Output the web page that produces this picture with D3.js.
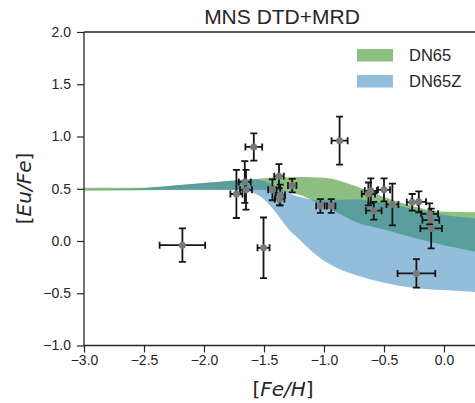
<!DOCTYPE html>
<html>
<head>
<meta charset="utf-8">
<script src="https://cdn.jsdelivr.net/npm/d3@7"></script>
<style>
  body { margin: 0; background: #fff; }
  svg { display: block; }
  .tick text { font-family: "Liberation Sans", Arial, sans-serif; font-size: 14px; fill: #262626; }
  .tick line { stroke: #262626; stroke-width: 1.2; }
</style>
</head>
<body>
<div id="chart"></div>
<script>

// model bands, [Fe/H] grid and the edges of each band
var fehGrid  = [-3.0, -2.5, -2.25, -2.0, -1.75, -1.6, -1.5, -1.45, -1.4, -1.3, -1.2, -1.1, -1.0, -0.85, -0.75, -0.5, -0.25, 0.0, 0.3];
var dn65Hi   = [0.51, 0.51, 0.53, 0.555, 0.58, 0.592, 0.60, 0.605, 0.607, 0.61, 0.612, 0.61, 0.605, 0.57, 0.53, 0.42, 0.33, 0.28, 0.275];
var dn65Lo   = [0.48, 0.485, 0.487, 0.49, 0.49, 0.49, 0.488, 0.485, 0.48, 0.465, 0.44, 0.39, 0.33, 0.25, 0.19, 0.11, 0.03, -0.04, -0.11];
var dn65zHi  = [0.49, 0.505, 0.53, 0.555, 0.58, 0.59, 0.575, 0.55, 0.52, 0.46, 0.42, 0.395, 0.39, 0.395, 0.40, 0.365, 0.305, 0.25, 0.215];
var dn65zLo  = [0.49, 0.49, 0.49, 0.488, 0.485, 0.465, 0.40, 0.34, 0.27, 0.12, 0.01, -0.10, -0.19, -0.28, -0.32, -0.40, -0.45, -0.47, -0.49];

// observed stars
var starFeH  = [-2.18, -1.585, -1.73, -1.66, -1.65, -1.43, -1.375, -1.365, -1.37, -1.265, -1.03, -0.94, -0.87, -1.504,
                -0.63, -0.61, -0.50, -0.43, -0.585, -0.265, -0.21, -0.12, -0.11, -0.107, -0.23];
var starEu   = [-0.04, 0.90, 0.45, 0.565, 0.49, 0.49, 0.62, 0.44, 0.40, 0.53, 0.335, 0.335, 0.96, -0.065,
                0.45, 0.48, 0.49, 0.35, 0.29, 0.37, 0.375, 0.26, 0.20, 0.12, -0.31];
var starXerr = [0.19, 0.07, 0.05, 0.05, 0.05, 0.035, 0.04, 0.04, 0.04, 0.035, 0.035, 0.035, 0.067, 0.05,
                0.055, 0.05, 0.05, 0.05, 0.065, 0.045, 0.06, 0.07, 0.07, 0.09, 0.157];
var starYerr = [0.16, 0.13, 0.23, 0.20, 0.19, 0.10, 0.115, 0.10, 0.06, 0.065, 0.065, 0.065, 0.23, 0.29,
                0.11, 0.12, 0.11, 0.20, 0.085, 0.08, 0.10, 0.10, 0.08, 0.19, 0.137];

var xTicks = [-3.0, -2.5, -2.0, -1.5, -1.0, -0.5, 0.0];
var yTicks = [-1.0, -0.5, 0.0, 0.5, 1.0, 1.5, 2.0];
var seriesNames = ["DN65", "DN65Z"];

var width = 475, height = 403;
var margin = {left: 84, top: 32, right: 480, bottom: 345.5};

var x = d3.scaleLinear().domain([-3, 0.3]).range([margin.left, margin.right]);
var y = d3.scaleLinear().domain([-1, 2]).range([margin.bottom, margin.top]);

var svg = d3.select("#chart").append("svg")
    .attr("width", width)
    .attr("height", height);

svg.append("defs").append("clipPath").attr("id", "plotclip")
    .append("rect")
    .attr("x", margin.left).attr("y", margin.top)
    .attr("width", margin.right - margin.left).attr("height", margin.bottom - margin.top);

var plot = svg.append("g").attr("clip-path", "url(#plotclip)");

var colors = ["#1c8002", "#257db7"];
var bandOpacity = 0.5;

function band(lo, hi) {
    return d3.area()
        .x(function(d, i) { return x(fehGrid[i]); })
        .y0(function(d, i) { return y(lo[i]); })
        .y1(function(d, i) { return y(hi[i]); })
        .curve(d3.curveMonotoneX)(fehGrid);
}

plot.append("path")
    .attr("d", band(dn65Lo, dn65Hi))
    .attr("fill", colors[0])
    .attr("fill-opacity", bandOpacity);

plot.append("path")
    .attr("d", band(dn65zLo, dn65zHi))
    .attr("fill", colors[1])
    .attr("fill-opacity", bandOpacity);

// error bars
var cap = 3.5;
var bars = plot.append("g")
    .attr("stroke", "#151515")
    .attr("stroke-width", 1.8)
    .attr("fill", "none");

starFeH.forEach(function(fe, i) {
    var cx = x(fe), cy = y(starEu[i]);
    var x0 = x(fe - starXerr[i]), x1 = x(fe + starXerr[i]);
    var y0 = y(starEu[i] - starYerr[i]), y1 = y(starEu[i] + starYerr[i]);
    bars.append("line").attr("x1", x0).attr("x2", x1).attr("y1", cy).attr("y2", cy);
    bars.append("line").attr("x1", cx).attr("x2", cx).attr("y1", y0).attr("y2", y1);
    bars.append("line").attr("x1", x0).attr("x2", x0).attr("y1", cy - cap).attr("y2", cy + cap);
    bars.append("line").attr("x1", x1).attr("x2", x1).attr("y1", cy - cap).attr("y2", cy + cap);
    bars.append("line").attr("x1", cx - cap).attr("x2", cx + cap).attr("y1", y0).attr("y2", y0);
    bars.append("line").attr("x1", cx - cap).attr("x2", cx + cap).attr("y1", y1).attr("y2", y1);
});

plot.append("g").selectAll("circle")
    .data(starFeH)
    .enter().append("circle")
    .attr("cx", function(d) { return x(d); })
    .attr("cy", function(d, i) { return y(starEu[i]); })
    .attr("r", 3.5)
    .attr("fill", "#7a7a7a");

// axes
var fmt = d3.format(".1f");

var xAxis = svg.append("g")
    .attr("transform", "translate(0," + margin.bottom + ")")
    .call(d3.axisBottom(x).tickValues(xTicks).tickFormat(fmt).tickSize(7).tickPadding(3));
xAxis.select(".domain").remove();

var yAxis = svg.append("g")
    .attr("transform", "translate(" + margin.left + ",0)")
    .call(d3.axisLeft(y).tickValues(yTicks).tickFormat(fmt).tickSize(7).tickPadding(6));
yAxis.select(".domain").remove();

// spines
var spines = svg.append("g").attr("stroke", "#262626").attr("stroke-width", 1.3);
spines.append("line").attr("x1", margin.left).attr("x2", margin.left).attr("y1", margin.top).attr("y2", margin.bottom);
spines.append("line").attr("x1", margin.left).attr("x2", margin.right).attr("y1", margin.bottom).attr("y2", margin.bottom);
spines.append("line").attr("x1", margin.left).attr("x2", margin.right).attr("y1", margin.top).attr("y2", margin.top);

// title
svg.append("text")
    .attr("x", 282).attr("y", 24)
    .attr("text-anchor", "middle")
    .style("font-family", "Liberation Sans, Arial, sans-serif")
    .style("font-size", "21px")
    .style("fill", "#262626")
    .text("MNS DTD+MRD");

// axis labels
function mathLabel(g, word) {
    var t = g.append("text")
        .attr("text-anchor", "middle")
        .style("font-family", "DejaVu Sans, sans-serif")
        .style("font-size", "20px")
        .style("fill", "#262626");
    t.append("tspan").text("[");
    t.append("tspan").style("font-style", "italic").text(word);
    t.append("tspan").text("]");
    return t;
}

mathLabel(svg.append("g").attr("transform", "translate(283,396)"), "Fe/H");
mathLabel(svg.append("g").attr("transform", "translate(31,188.5) rotate(-90)"), "Eu/Fe");

// legend
var legend = svg.append("g");
seriesNames.forEach(function(name, i) {
    legend.append("rect")
        .attr("x", 357).attr("y", 49 + i * 26)
        .attr("width", 36).attr("height", 12.5)
        .attr("fill", colors[i])
        .attr("fill-opacity", bandOpacity);
    legend.append("text")
        .attr("x", 409).attr("y", 61 + i * 26)
        .style("font-family", "Liberation Sans, Arial, sans-serif")
        .style("font-size", "16.5px")
        .style("fill", "#262626")
        .text(name);
});

</script>
</body>
</html>
